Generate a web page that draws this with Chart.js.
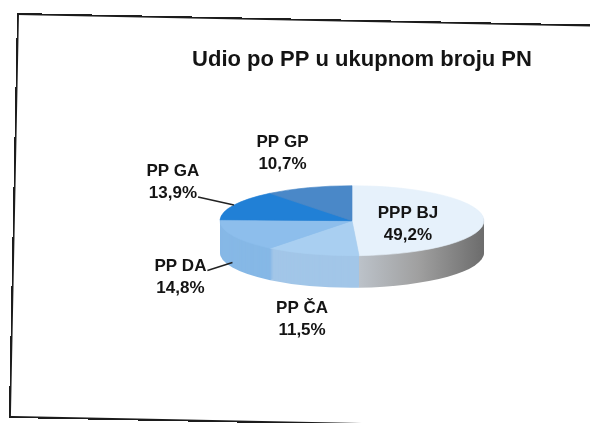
<!DOCTYPE html>
<html>
<head>
<meta charset="utf-8">
<script src="https://cdn.jsdelivr.net/npm/chart.js@4/dist/chart.umd.min.js"></script>
<style>
    html, body { margin: 0; padding: 0; background: #fff; overflow: hidden; }
    #wrap { position: relative; width: 590px; height: 423px; }
    #chart { position: absolute; left: 0; top: 0; }
    /* scanned page frame, slightly skewed like the original */
    #frame {
        position: absolute; left: 17px; top: 13px;
        width: 620px; height: 405px;
        border: 2px solid #1c1c1c; box-sizing: border-box;
        transform-origin: 0 0; transform: rotate(1.15deg);
        pointer-events: none;
    }
</style>
</head>
<body>
<div id="wrap">
    <canvas id="chart" width="590" height="423"></canvas>
    <div id="frame"></div>
</div>
<script>
// ─── Data ─────────────────────────────────────────────────────────
const TITLE = 'Udio po PP u ukupnom broju PN';
const CATEGORIES = ['PPP BJ', 'PP ČA', 'PP DA', 'PP GA', 'PP GP'];
const SHARES = [49.2, 11.5, 14.8, 13.9, 10.7];
const SHARE_LABELS = ['49,2%', '11,5%', '14,8%', '13,9%', '10,7%'];

// ─── Style ────────────────────────────────────────────────────────
const TOP_COLORS = ['#e6f1fb', '#a9cff1', '#8dbeec', '#2180d6', '#4a88c8'];
const SIDE_COLORS = ['#9a9a9a', '#a2c6e8', '#86b8e6', '#1d70bd', '#3f78b2'];
const FLAT = 0.265;      // vertical squash of the pie -> ellipse
const DEPTH = 32;        // thickness of the 3D side, px
const SHIFT_X = -10;     // pie sits a bit left of the title centre
const FONT = '"Liberation Sans", Arial, sans-serif';

// label placement relative to the slice's rim point (dx, dy) and leader lines
const LABEL_OFFSETS = [[-76, 5], [-10, 65], [-52, 42], [-61, -23], [-26, -34]];
const LEADERS = { 2: { line: 0, drop: 27 }, 3: { line: 1, drop: 0 } };
const LINE_GAP = 22;

const Pie3D = (() => {
    function rimPoint(arc) {
        const p = arc.getProps(['x', 'y', 'startAngle', 'endAngle', 'outerRadius'], true);
        const mid = (p.startAngle + p.endAngle) / 2;
        return {
            x: p.x + SHIFT_X + Math.cos(mid) * p.outerRadius,
            y: p.y + Math.sin(mid) * p.outerRadius * FLAT,
        };
    }

    function sideFill(ctx, i, arc) {
        if (i !== 0) return SIDE_COLORS[i];
        // grey side of the big slice gets darker toward the right edge
        const g = ctx.createLinearGradient(arc.x, 0, arc.x + arc.outerRadius, 0);
        g.addColorStop(0, '#bfc6ce');
        g.addColorStop(0.5, '#a0a0a0');
        g.addColorStop(1, '#6c6c6c');
        return g;
    }

    // ─── Plugin ───────────────────────────────────────────────────────
    const plugin = {
        id: 'pie3d',
        beforeDatasetsDraw(chart) {
            const ctx = chart.ctx;
            const arcs = chart.getDatasetMeta(0).data;
            const cx = arcs[0].x, cy = arcs[0].y;

            ctx.save();
            ctx.translate(cx + SHIFT_X, cy);
            ctx.scale(1, FLAT);
            ctx.translate(-cx, -cy);

            // stacked layers for the side wall
            for (let d = DEPTH; d >= 1; d--) {
                arcs.forEach((arc, i) => {
                    ctx.beginPath();
                    ctx.moveTo(arc.x, arc.y + d / FLAT);
                    ctx.arc(arc.x, arc.y + d / FLAT, arc.outerRadius, arc.startAngle, arc.endAngle);
                    ctx.closePath();
                    ctx.fillStyle = sideFill(ctx, i, arc);
                    ctx.fill();
                });
            }
        },
        afterDatasetsDraw(chart) {
            const ctx = chart.ctx;
            ctx.restore();

            const arcs = chart.getDatasetMeta(0).data;
            ctx.save();
            ctx.font = `bold 17px ${FONT}`;
            ctx.fillStyle = '#141414';
            ctx.textAlign = 'center';
            ctx.textBaseline = 'middle';

            arcs.forEach((arc, i) => {
                const rim = rimPoint(arc);
                const lx = rim.x + LABEL_OFFSETS[i][0];
                const ly = rim.y + LABEL_OFFSETS[i][1];
                const lines = [CATEGORIES[i], SHARE_LABELS[i]];
                lines.forEach((t, k) => {
                    ctx.fillText(t, lx, ly + (k - 0.5) * LINE_GAP);
                });

                const leader = LEADERS[i];
                if (leader) {
                    const t = lines[leader.line];
                    const w = ctx.measureText(t).width;
                    const sy = ly + (leader.line - 0.5) * LINE_GAP + 4;
                    ctx.beginPath();
                    ctx.moveTo(lx + w / 2 + 1, sy);
                    ctx.lineTo(rim.x, rim.y + leader.drop);
                    ctx.strokeStyle = '#222';
                    ctx.lineWidth = 1.5;
                    ctx.stroke();
                }
            });
            ctx.restore();
        },
    };

    // ─── Chart ────────────────────────────────────────────────────────
    function init() {
        new Chart(document.getElementById('chart'), {
            type: 'pie',
            data: {
                labels: CATEGORIES,
                datasets: [{
                    data: SHARES,
                    backgroundColor: TOP_COLORS,
                    borderColor: TOP_COLORS,
                    borderWidth: 1,
                    radius: 132,
                }],
            },
            options: {
                responsive: false,
                animation: false,
                layout: { padding: { left: 134, right: 0, top: 0, bottom: 71 } },
                plugins: {
                    legend: { display: false },
                    tooltip: { enabled: false },
                    title: {
                        display: true,
                        text: TITLE,
                        color: '#141414',
                        font: { family: FONT, size: 22, weight: 'bold' },
                        padding: { top: 47, bottom: 16 },
                    },
                },
            },
            plugins: [plugin],
        });
    }

    return { init };
})();

Pie3D.init();
</script>
</body>
</html>
